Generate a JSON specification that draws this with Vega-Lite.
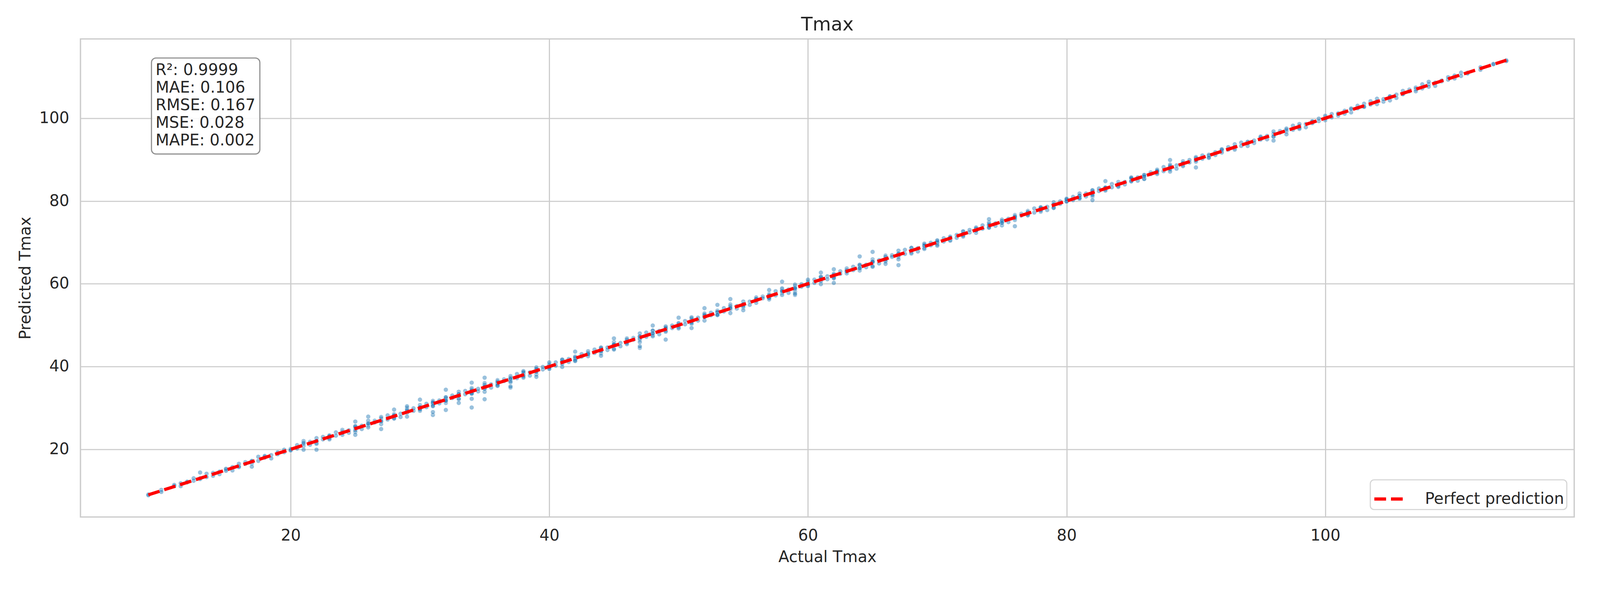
{
"$schema":"https://vega.github.io/schema/vega-lite/v6.json",
"autosize":{"type":"none"},
"padding":{"left":206,"top":99.6,"right":59,"bottom":161},
"width":3824,"height":1223,
"background":"white",
"title":{"text":"Tmax","font":"DejaVu Sans","fontSize":48.3,"fontWeight":"normal","color":"#262626","baseline":"alphabetic","offset":23.2,"dy":50,"anchor":"middle"},
"config":{
"view":{"stroke":"#cccccc","strokeWidth":3.4},
"axis":{"grid":true,"gridColor":"#cccccc","gridWidth":2.9,"domain":false,"ticks":false,"labelFont":"DejaVu Sans","labelFontSize":40.3,"labelColor":"#262626","titleFont":"DejaVu Sans","titleFontSize":40.3,"titleFontWeight":"normal","titleColor":"#262626"},
"legend":{"orient":"bottom-right","offset":19.3,"symbolType":"stroke","symbolSize":5980,"symbolStrokeWidth":8.2,"symbolDash":[30,12.6],"symbolStrokeColor":"red","labelFont":"DejaVu Sans","labelFontSize":40.3,"labelColor":"#262626","labelLimit":2000,"fillColor":"white","strokeColor":"#d6d6d6","strokeWidth":2.9,"cornerRadius":9.7,"padding":6,"labelOffset":48}
},
"datasets":{
"pts":[
{"a":9,"p":9.1},{"a":9,"p":8.9},{"a":10,"p":10.2},{"a":10,"p":9.7},{"a":11,"p":11.1},{"a":11,"p":11.4},{"a":12,"p":12.0},{"a":12,"p":12.2},{"a":13,"p":12.8},{"a":13,"p":13.0},{"a":13,"p":14.4},{"a":14,"p":13.6},{"a":14,"p":14.3},
{"a":15,"p":15.1},{"a":15,"p":14.8},{"a":15,"p":15.3},{"a":16,"p":15.9},{"a":16,"p":16.5},{"a":16,"p":15.7},{"a":17,"p":17.1},{"a":17,"p":17.2},{"a":17,"p":16.6},{"a":17,"p":15.8},{"a":18,"p":18.2},{"a":18,"p":18.0},{"a":18,"p":18.4},{"a":19,"p":18.8},{"a":19,"p":19.0},{"a":19,"p":19.3},{"a":20,"p":19.7},{"a":20,"p":20.1},{"a":20,"p":19.8},
{"a":21,"p":22.0},{"a":21,"p":20.8},{"a":21,"p":21.3},{"a":21,"p":19.9},{"a":21,"p":21.6},
{"a":22,"p":22.1},{"a":22,"p":21.6},{"a":22,"p":22.7},{"a":22,"p":21.3},{"a":22,"p":22.0},{"a":22,"p":19.9},
{"a":23,"p":23.1},{"a":23,"p":22.7},{"a":23,"p":23.4},{"a":23,"p":22.4},{"a":23,"p":23.2},
{"a":24,"p":24.7},{"a":24,"p":23.9},{"a":24,"p":24.3},{"a":24,"p":23.5},{"a":24,"p":24.0},
{"a":25,"p":24.2},{"a":25,"p":25.5},{"a":25,"p":25.2},{"a":25,"p":24.6},{"a":25,"p":25.6},{"a":25,"p":23.5},{"a":25,"p":26.7},
{"a":26,"p":25.8},{"a":26,"p":26.9},{"a":26,"p":25.3},{"a":26,"p":26.1},{"a":26,"p":26.3},{"a":26,"p":27.9},
{"a":27,"p":26.1},{"a":27,"p":27.4},{"a":27,"p":26.9},{"a":27,"p":27.8},{"a":27,"p":26.7},{"a":27,"p":24.9},
{"a":28,"p":28.0},{"a":28,"p":28.5},{"a":28,"p":27.4},{"a":28,"p":28.2},{"a":28,"p":27.5},{"a":28,"p":29.6},
{"a":29,"p":30.0},{"a":29,"p":28.8},{"a":29,"p":29.3},{"a":29,"p":27.9},{"a":29,"p":29.6},{"a":29,"p":30.4},
{"a":30,"p":30.1},{"a":30,"p":29.6},{"a":30,"p":30.7},{"a":30,"p":29.3},{"a":30,"p":30.0},{"a":30,"p":30.2},{"a":30,"p":29.7},{"a":30,"p":32.0},
{"a":31,"p":31.4},{"a":31,"p":30.4},{"a":31,"p":31.2},{"a":31,"p":31.7},{"a":31,"p":30.9},{"a":31,"p":31.3},{"a":31,"p":30.5},{"a":31,"p":28.3},{"a":31,"p":29.0},
{"a":32,"p":32.0},{"a":32,"p":31.2},{"a":32,"p":32.5},{"a":32,"p":32.2},{"a":32,"p":31.6},{"a":32,"p":32.6},{"a":32,"p":31.8},{"a":32,"p":29.5},{"a":32,"p":34.4},
{"a":33,"p":33.9},{"a":33,"p":32.3},{"a":33,"p":33.1},{"a":33,"p":33.3},{"a":33,"p":32.1},{"a":33,"p":33.4},{"a":33,"p":32.9},{"a":33,"p":31.2},
{"a":34,"p":34.8},{"a":34,"p":33.7},{"a":34,"p":34.0},{"a":34,"p":34.5},{"a":34,"p":33.4},{"a":34,"p":34.2},{"a":34,"p":33.5},{"a":34,"p":30.1},{"a":34,"p":32.2},{"a":34,"p":36.1},
{"a":35,"p":36.0},{"a":35,"p":34.8},{"a":35,"p":35.3},{"a":35,"p":33.9},{"a":35,"p":35.6},{"a":35,"p":35.1},{"a":35,"p":34.6},{"a":35,"p":32.1},{"a":35,"p":37.3},
{"a":36,"p":36.7},{"a":36,"p":35.3},{"a":36,"p":36.0},{"a":36,"p":36.1},{"a":36,"p":35.7},{"a":36,"p":36.4},{"a":36,"p":35.4},
{"a":37,"p":37.2},{"a":37,"p":37.7},{"a":37,"p":36.9},{"a":37,"p":37.3},{"a":37,"p":36.5},{"a":37,"p":37.0},{"a":37,"p":36.2},{"a":37,"p":34.9},{"a":37,"p":35.2},
{"a":38,"p":38.5},{"a":38,"p":38.2},{"a":38,"p":37.6},{"a":38,"p":38.6},{"a":38,"p":37.8},{"a":38,"p":38.9},{"a":38,"p":37.3},
{"a":39,"p":39.1},{"a":39,"p":39.3},{"a":39,"p":38.1},{"a":39,"p":39.4},{"a":39,"p":38.9},{"a":39,"p":39.8},{"a":39,"p":38.7},{"a":39,"p":37.5},
{"a":40,"p":40.0},{"a":40,"p":40.5},{"a":40,"p":39.4},{"a":40,"p":40.2},{"a":40,"p":39.5},{"a":40,"p":41.0},{"a":40,"p":39.8},
{"a":41,"p":41.3},{"a":41,"p":39.9},{"a":41,"p":41.6},{"a":41,"p":41.1},{"a":41,"p":40.6},{"a":41,"p":41.7},
{"a":42,"p":41.3},{"a":42,"p":42.0},{"a":42,"p":42.1},{"a":42,"p":41.7},{"a":42,"p":42.4},{"a":42,"p":41.4},{"a":42,"p":43.6},
{"a":43,"p":43.2},{"a":43,"p":43.7},{"a":43,"p":42.9},{"a":43,"p":43.3},{"a":43,"p":42.5},{"a":43,"p":43.0},
{"a":44,"p":43.2},{"a":44,"p":44.5},{"a":44,"p":44.2},{"a":44,"p":43.6},{"a":44,"p":44.6},{"a":44,"p":43.8},{"a":44,"p":42.6},
{"a":45,"p":45.9},{"a":45,"p":44.3},{"a":45,"p":45.1},{"a":45,"p":45.3},{"a":45,"p":44.1},{"a":45,"p":45.4},{"a":45,"p":46.8},
{"a":46,"p":45.9},{"a":46,"p":46.8},{"a":46,"p":45.7},{"a":46,"p":46.0},{"a":46,"p":46.5},{"a":46,"p":45.4},
{"a":47,"p":47.2},{"a":47,"p":46.5},{"a":47,"p":48.0},{"a":47,"p":46.8},{"a":47,"p":47.3},{"a":47,"p":45.9},{"a":47,"p":44.5},{"a":47,"p":44.9},
{"a":48,"p":48.6},{"a":48,"p":48.1},{"a":48,"p":47.6},{"a":48,"p":48.7},{"a":48,"p":47.3},{"a":48,"p":48.0},{"a":48,"p":49.9},
{"a":49,"p":49.1},{"a":49,"p":48.7},{"a":49,"p":49.4},{"a":49,"p":48.4},{"a":49,"p":49.2},{"a":49,"p":49.7},{"a":49,"p":46.5},
{"a":50,"p":49.9},{"a":50,"p":50.3},{"a":50,"p":49.5},{"a":50,"p":50.0},{"a":50,"p":49.2},{"a":50,"p":50.5},{"a":50,"p":51.8},
{"a":51,"p":51.2},{"a":51,"p":50.6},{"a":51,"p":51.6},{"a":51,"p":50.8},{"a":51,"p":51.9},{"a":51,"p":50.3},{"a":51,"p":49.3},
{"a":52,"p":52.1},{"a":52,"p":52.3},{"a":52,"p":51.1},{"a":52,"p":52.4},{"a":52,"p":51.9},{"a":52,"p":52.8},{"a":52,"p":54.1},
{"a":53,"p":52.7},{"a":53,"p":53.0},{"a":53,"p":53.5},{"a":53,"p":52.4},{"a":53,"p":53.2},{"a":53,"p":52.5},{"a":53,"p":54.9},
{"a":54,"p":55.0},{"a":54,"p":53.8},{"a":54,"p":54.3},{"a":54,"p":52.9},{"a":54,"p":54.6},{"a":54,"p":54.1},{"a":54,"p":56.3},
{"a":55,"p":54.6},{"a":55,"p":55.7},{"a":55,"p":54.3},{"a":55,"p":55.0},{"a":55,"p":55.1},{"a":55,"p":54.7},{"a":55,"p":53.6},
{"a":56,"p":56.4},{"a":56,"p":55.4},{"a":56,"p":56.2},{"a":56,"p":56.7},{"a":56,"p":55.9},{"a":56,"p":56.3},
{"a":57,"p":56.5},{"a":57,"p":57.0},{"a":57,"p":56.2},{"a":57,"p":57.5},{"a":57,"p":57.2},{"a":57,"p":56.6},{"a":57,"p":58.5},
{"a":58,"p":58.6},{"a":58,"p":57.8},{"a":58,"p":58.9},{"a":58,"p":57.3},{"a":58,"p":58.1},{"a":58,"p":58.3},{"a":58,"p":60.5},
{"a":59,"p":58.1},{"a":59,"p":59.4},{"a":59,"p":58.9},{"a":59,"p":59.8},{"a":59,"p":58.7},{"a":59,"p":59.0},{"a":59,"p":57.3},{"a":59,"p":57.6},
{"a":60,"p":60.5},{"a":60,"p":59.4},{"a":60,"p":60.2},{"a":60,"p":59.5},{"a":60,"p":61.0},{"a":60,"p":59.8},
{"a":61,"p":61.3},{"a":61,"p":59.9},{"a":61,"p":61.6},{"a":61,"p":61.1},{"a":61,"p":60.6},{"a":61,"p":61.7},{"a":61,"p":62.7},
{"a":62,"p":61.3},{"a":62,"p":62.0},{"a":62,"p":62.1},{"a":62,"p":61.7},{"a":62,"p":62.4},{"a":62,"p":61.4},{"a":62,"p":60.2},{"a":62,"p":63.5},
{"a":63,"p":63.2},{"a":63,"p":63.7},{"a":63,"p":62.9},{"a":63,"p":63.3},{"a":63,"p":62.5},{"a":63,"p":63.0},
{"a":64,"p":63.2},{"a":64,"p":64.5},{"a":64,"p":64.2},{"a":64,"p":63.6},{"a":64,"p":64.6},{"a":64,"p":63.8},{"a":64,"p":66.6},
{"a":65,"p":65.9},{"a":65,"p":64.3},{"a":65,"p":65.1},{"a":65,"p":65.3},{"a":65,"p":64.1},{"a":65,"p":65.4},{"a":65,"p":67.7},
{"a":66,"p":65.9},{"a":66,"p":66.8},{"a":66,"p":65.7},{"a":66,"p":66.0},{"a":66,"p":66.5},{"a":66,"p":65.4},{"a":66,"p":64.8},
{"a":67,"p":67.2},{"a":67,"p":66.5},{"a":67,"p":68.0},{"a":67,"p":66.8},{"a":67,"p":67.3},{"a":67,"p":65.9},{"a":67,"p":64.5},
{"a":68,"p":68.6},{"a":68,"p":68.1},{"a":68,"p":67.6},{"a":68,"p":68.7},{"a":68,"p":67.3},{"a":68,"p":68.0},
{"a":69,"p":69.1},{"a":69,"p":68.7},{"a":69,"p":69.4},{"a":69,"p":68.4},{"a":69,"p":69.2},{"a":69,"p":69.7},
{"a":70,"p":69.9},{"a":70,"p":70.3},{"a":70,"p":69.5},{"a":70,"p":70.0},{"a":70,"p":69.2},{"a":70,"p":70.5},
{"a":71,"p":71.2},{"a":71,"p":70.6},{"a":71,"p":71.0},{"a":71,"p":70.4},{"a":71,"p":71.4},{"a":71,"p":71.1},
{"a":72,"p":71.7},{"a":72,"p":72.5},{"a":72,"p":71.8},{"a":72,"p":72.7},{"a":72,"p":71.4},{"a":72,"p":72.1},
{"a":73,"p":73.2},{"a":73,"p":72.3},{"a":73,"p":73.3},{"a":73,"p":72.9},{"a":73,"p":73.6},{"a":73,"p":72.8},
{"a":74,"p":74.0},{"a":74,"p":74.4},{"a":74,"p":73.5},{"a":74,"p":74.2},{"a":74,"p":73.6},{"a":74,"p":74.8},{"a":74,"p":75.6},
{"a":75,"p":74.8},{"a":75,"p":75.2},{"a":75,"p":74.1},{"a":75,"p":75.5},{"a":75,"p":75.1},{"a":75,"p":74.7},
{"a":76,"p":76.6},{"a":76,"p":75.4},{"a":76,"p":76.0},{"a":76,"p":76.1},{"a":76,"p":75.8},{"a":76,"p":76.3},{"a":76,"p":73.9},
{"a":77,"p":76.5},{"a":77,"p":77.2},{"a":77,"p":77.6},{"a":77,"p":76.9},{"a":77,"p":77.3},{"a":77,"p":76.6},
{"a":78,"p":78.0},{"a":78,"p":77.4},{"a":78,"p":78.4},{"a":78,"p":78.2},{"a":78,"p":77.7},{"a":78,"p":78.5},
{"a":79,"p":78.8},{"a":79,"p":79.7},{"a":79,"p":78.4},{"a":79,"p":79.1},{"a":79,"p":79.2},{"a":79,"p":78.3},
{"a":80,"p":80.3},{"a":80,"p":79.9},{"a":80,"p":80.6},{"a":80,"p":79.8},{"a":80,"p":80.0},{"a":80,"p":80.4},
{"a":81,"p":80.5},{"a":81,"p":81.2},{"a":81,"p":80.6},{"a":81,"p":81.8},{"a":81,"p":80.8},{"a":81,"p":81.3},
{"a":82,"p":81.1},{"a":82,"p":82.5},{"a":82,"p":82.1},{"a":82,"p":81.7},{"a":82,"p":82.6},{"a":82,"p":81.4},{"a":82,"p":80.2},
{"a":83,"p":83.0},{"a":83,"p":83.1},{"a":83,"p":82.8},{"a":83,"p":83.3},{"a":83,"p":82.5},{"a":83,"p":83.2},{"a":83,"p":84.8},
{"a":84,"p":84.6},{"a":84,"p":83.9},{"a":84,"p":84.2},{"a":84,"p":83.6},{"a":84,"p":84.0},{"a":84,"p":83.4},
{"a":85,"p":85.4},{"a":85,"p":85.2},{"a":85,"p":84.7},{"a":85,"p":85.5},{"a":85,"p":84.8},{"a":85,"p":85.7},
{"a":86,"p":85.4},{"a":86,"p":86.1},{"a":86,"p":86.2},{"a":86,"p":85.3},{"a":86,"p":86.3},{"a":86,"p":85.9},
{"a":87,"p":87.6},{"a":87,"p":86.8},{"a":87,"p":87.0},{"a":87,"p":87.4},{"a":87,"p":86.5},{"a":87,"p":87.2},
{"a":88,"p":87.6},{"a":88,"p":88.8},{"a":88,"p":87.8},{"a":88,"p":88.2},{"a":88,"p":87.1},{"a":88,"p":88.5},{"a":88,"p":89.9},
{"a":89,"p":89.1},{"a":89,"p":88.7},{"a":89,"p":89.6},{"a":89,"p":88.4},{"a":89,"p":89.0},{"a":89,"p":89.2},
{"a":90,"p":89.8},{"a":90,"p":90.3},{"a":90,"p":89.5},{"a":90,"p":90.2},{"a":90,"p":90.6},{"a":90,"p":89.9},{"a":90,"p":88.1},
{"a":91,"p":91.2},{"a":91,"p":90.6},{"a":91,"p":91.0},{"a":91,"p":90.4},
{"a":92,"p":92.4},{"a":92,"p":92.2},{"a":92,"p":91.7},{"a":92,"p":92.5},
{"a":93,"p":92.8},{"a":93,"p":93.7},{"a":93,"p":92.4},{"a":93,"p":93.1},
{"a":94,"p":94.2},{"a":94,"p":93.3},{"a":94,"p":94.3},{"a":94,"p":93.9},
{"a":95,"p":95.6},{"a":95,"p":94.8},{"a":95,"p":95.0},{"a":95,"p":95.4},
{"a":96,"p":95.5},{"a":96,"p":96.2},{"a":96,"p":95.6},{"a":96,"p":96.8},{"a":96,"p":94.6},
{"a":97,"p":96.8},{"a":97,"p":97.2},{"a":97,"p":96.1},{"a":97,"p":97.5},
{"a":98,"p":98.1},{"a":98,"p":97.7},{"a":98,"p":98.6},{"a":98,"p":97.4},
{"a":99,"p":99.0},{"a":99,"p":99.1},{"a":99,"p":98.8},{"a":99,"p":99.3},
{"a":100,"p":99.5},{"a":100,"p":100.2},{"a":100,"p":100.6},{"a":100,"p":99.9},
{"a":101,"p":101.2},{"a":101,"p":100.6},{"a":101,"p":101.0},
{"a":102,"p":101.4},{"a":102,"p":102.4},{"a":102,"p":102.2},
{"a":103,"p":102.7},{"a":103,"p":103.5},{"a":103,"p":102.8},
{"a":104,"p":104.7},{"a":104,"p":103.4},{"a":104,"p":104.1},
{"a":105,"p":105.2},{"a":105,"p":104.3},{"a":105,"p":105.3},
{"a":106,"p":105.9},{"a":106,"p":106.6},{"a":106,"p":105.8},
{"a":107,"p":107.0},{"a":107,"p":107.4},{"a":107,"p":106.5},
{"a":108,"p":108.2},{"a":108,"p":107.6},{"a":108,"p":108.8},
{"a":109,"p":108.9},{"a":109,"p":109.1},{"a":110,"p":109.6},{"a":110,"p":110.3},{"a":111,"p":111.0},{"a":111,"p":110.8},
{"a":112,"p":112.3},{"a":112,"p":111.7},{"a":113,"p":113.0},{"a":113,"p":113.1},{"a":114,"p":114.0},{"a":114,"p":113.8},
{"a":11.5,"p":11.8},{"a":11.5,"p":11.1},{"a":12.5,"p":12.4},{"a":12.5,"p":13.0},{"a":13.5,"p":14.1},{"a":13.5,"p":13.3},{"a":14.5,"p":14.0},{"a":14.5,"p":14.6},{"a":15.5,"p":15.7},{"a":15.5,"p":14.9},
{"a":16.5,"p":16.9},{"a":16.5,"p":16.5},{"a":17.5,"p":17.2},{"a":17.5,"p":18.2},{"a":18.5,"p":18.6},{"a":18.5,"p":17.8},{"a":19.5,"p":19.3},{"a":19.5,"p":19.9},{"a":20.5,"p":21.0},{"a":20.5,"p":20.2},
{"a":21.5,"p":21.8},{"a":21.5,"p":21.1},{"a":22.5,"p":22.4},{"a":22.5,"p":23.0},{"a":23.5,"p":24.1},{"a":23.5,"p":23.3},{"a":24.5,"p":24.0},{"a":24.5,"p":24.6},{"a":25.5,"p":25.7},{"a":25.5,"p":24.9},
{"a":26.5,"p":26.9},{"a":26.5,"p":26.5},{"a":27.5,"p":27.2},{"a":27.5,"p":28.2},{"a":28.5,"p":28.6},{"a":28.5,"p":27.8},{"a":29.5,"p":29.3},{"a":29.5,"p":29.9},{"a":30.5,"p":31.0},{"a":30.5,"p":30.2},
{"a":31.5,"p":31.8},{"a":31.5,"p":31.1},{"a":32.5,"p":32.4},{"a":32.5,"p":33.0},{"a":33.5,"p":34.1},{"a":33.5,"p":33.3},{"a":34.5,"p":34.0},{"a":34.5,"p":34.6},{"a":35.5,"p":35.7},{"a":35.5,"p":34.9},
{"a":36.5,"p":36.9},{"a":36.5,"p":36.5},{"a":37.5,"p":37.2},{"a":37.5,"p":38.2},{"a":38.5,"p":38.6},{"a":38.5,"p":37.8},{"a":39.5,"p":39.3},{"a":39.5,"p":39.9},{"a":40.5,"p":41.0},{"a":40.5,"p":40.2},
{"a":41.5,"p":41.8},{"a":41.5,"p":41.1},{"a":42.5,"p":42.4},{"a":42.5,"p":43.0},{"a":43.5,"p":44.1},{"a":43.5,"p":43.3},{"a":44.5,"p":44.0},{"a":44.5,"p":44.6},{"a":45.5,"p":45.7},{"a":45.5,"p":44.9},
{"a":46.5,"p":46.9},{"a":46.5,"p":46.5},{"a":47.5,"p":47.2},{"a":47.5,"p":48.2},{"a":48.5,"p":48.6},{"a":48.5,"p":47.8},{"a":49.5,"p":49.3},{"a":49.5,"p":49.9},{"a":50.5,"p":51.0},{"a":50.5,"p":50.2},
{"a":51.5,"p":51.8},{"a":51.5,"p":51.1},{"a":52.5,"p":52.4},{"a":52.5,"p":53.0},{"a":53.5,"p":54.1},{"a":53.5,"p":53.3},{"a":54.5,"p":54.0},{"a":54.5,"p":54.6},{"a":55.5,"p":55.7},{"a":55.5,"p":54.9},
{"a":56.5,"p":56.9},{"a":56.5,"p":56.5},{"a":57.5,"p":57.2},{"a":57.5,"p":58.2},{"a":58.5,"p":58.6},{"a":58.5,"p":57.8},{"a":59.5,"p":59.3},{"a":59.5,"p":59.9},{"a":60.5,"p":61.0},{"a":60.5,"p":60.2},
{"a":61.5,"p":61.8},{"a":61.5,"p":61.1},{"a":62.5,"p":62.4},{"a":62.5,"p":63.0},{"a":63.5,"p":64.1},{"a":63.5,"p":63.3},{"a":64.5,"p":64.0},{"a":64.5,"p":64.6},{"a":65.5,"p":65.7},{"a":65.5,"p":64.9},
{"a":66.5,"p":66.9},{"a":66.5,"p":66.5},{"a":67.5,"p":67.2},{"a":67.5,"p":68.2},{"a":68.5,"p":68.6},{"a":68.5,"p":67.8},{"a":69.5,"p":69.3},{"a":69.5,"p":69.9},{"a":70.5,"p":71.0},{"a":70.5,"p":70.2},
{"a":71.5,"p":71.8},{"a":71.5,"p":71.1},{"a":72.5,"p":72.4},{"a":72.5,"p":73.0},{"a":73.5,"p":74.1},{"a":73.5,"p":73.3},{"a":74.5,"p":74.0},{"a":74.5,"p":74.6},{"a":75.5,"p":75.7},{"a":75.5,"p":74.9},
{"a":76.5,"p":76.9},{"a":76.5,"p":76.5},{"a":77.5,"p":77.2},{"a":77.5,"p":78.2},{"a":78.5,"p":78.6},{"a":78.5,"p":77.8},{"a":79.5,"p":79.3},{"a":79.5,"p":79.9},{"a":80.5,"p":81.0},{"a":80.5,"p":80.2},
{"a":81.5,"p":81.8},{"a":81.5,"p":81.1},{"a":82.5,"p":82.4},{"a":82.5,"p":83.0},{"a":83.5,"p":84.1},{"a":83.5,"p":83.3},{"a":84.5,"p":84.0},{"a":84.5,"p":84.6},{"a":85.5,"p":85.7},{"a":85.5,"p":84.9},
{"a":86.5,"p":86.9},{"a":86.5,"p":86.5},{"a":87.5,"p":87.2},{"a":87.5,"p":88.2},{"a":88.5,"p":88.6},{"a":88.5,"p":87.8},{"a":89.5,"p":89.3},{"a":89.5,"p":89.9},{"a":90.5,"p":91.0},{"a":90.5,"p":90.2},
{"a":91.5,"p":91.8},{"a":91.5,"p":91.1},{"a":92.5,"p":92.4},{"a":92.5,"p":93.0},{"a":93.5,"p":94.1},{"a":93.5,"p":93.3},{"a":94.5,"p":94.0},{"a":94.5,"p":94.6},{"a":95.5,"p":95.7},{"a":95.5,"p":94.9},
{"a":96.5,"p":96.9},{"a":96.5,"p":96.5},{"a":97.5,"p":97.2},{"a":97.5,"p":98.2},{"a":98.5,"p":98.6},{"a":98.5,"p":97.8},{"a":99.5,"p":99.3},{"a":99.5,"p":99.9},{"a":100.5,"p":101.0},{"a":100.5,"p":100.2},
{"a":101.5,"p":101.8},{"a":101.5,"p":101.1},{"a":102.5,"p":102.4},{"a":102.5,"p":103.0},{"a":103.5,"p":104.1},{"a":103.5,"p":103.3},{"a":104.5,"p":104.0},{"a":104.5,"p":104.6},{"a":105.5,"p":105.7},{"a":105.5,"p":104.9},
{"a":106.5,"p":106.9},{"a":106.5,"p":106.5},{"a":107.5,"p":107.2},{"a":107.5,"p":108.2},{"a":108.5,"p":108.6},{"a":108.5,"p":107.8},{"a":109.5,"p":109.3},{"a":109.5,"p":109.9},{"a":110.5,"p":111.0},{"a":110.5,"p":110.2}
],
"ideal":[{"a":9,"p":9,"s":"Perfect prediction"},{"a":114,"p":114,"s":"Perfect prediction"}]
},
"layer":[
{"data":{"name":"pts"},
"mark":{"type":"point","shape":"circle","filled":true,"fill":"#1f77b4","stroke":"white","strokeWidth":1.16,"size":150,"opacity":0.45},
"encoding":{
"x":{"field":"a","type":"quantitative","scale":{"domain":[3.75,119.25],"nice":false,"zero":false},"axis":{"title":"Actual Tmax","values":[20,40,60,80,100],"labelPadding":28,"titleY":115,"titleBaseline":"alphabetic"}},
"y":{"field":"p","type":"quantitative","scale":{"domain":[3.65,119.15],"nice":false,"zero":false},"axis":{"title":"Predicted Tmax","values":[20,40,60,80,100],"labelPadding":29,"titleX":-128.6,"titleBaseline":"alphabetic"}}
}},
{"data":{"name":"ideal"},
"mark":{"type":"line","color":"red","strokeWidth":8.2,"strokeDash":[30,12.6],"strokeCap":"butt"},
"encoding":{
"x":{"field":"a","type":"quantitative"},
"y":{"field":"p","type":"quantitative"},
"color":{"field":"s","type":"nominal","scale":{"range":["red"]},"legend":{"title":null}}
}},
{"data":{"values":[{"label":"metrics"}]},
"mark":{"type":"rect","fill":"white","stroke":"#8f8f8f","strokeWidth":2.9,"cornerRadius":11.6,"fillOpacity":0.85},
"encoding":{
"x":{"datum":9.24,"type":"quantitative"},
"x2":{"datum":17.62},
"y":{"datum":114.54,"type":"quantitative"},
"y2":{"datum":91.34}
}},
{"data":{"values":[{"label":"metrics"}]},
"mark":{"type":"text","text":["R²: 0.9999","MAE: 0.106","RMSE: 0.167","MSE: 0.028","MAPE: 0.002"],"font":"DejaVu Sans","fontSize":40.3,"lineHeight":45.1,"align":"left","baseline":"top","color":"#262626"},
"encoding":{
"x":{"datum":9.56,"type":"quantitative"},
"y":{"datum":113.48,"type":"quantitative"}
}}
]
}
